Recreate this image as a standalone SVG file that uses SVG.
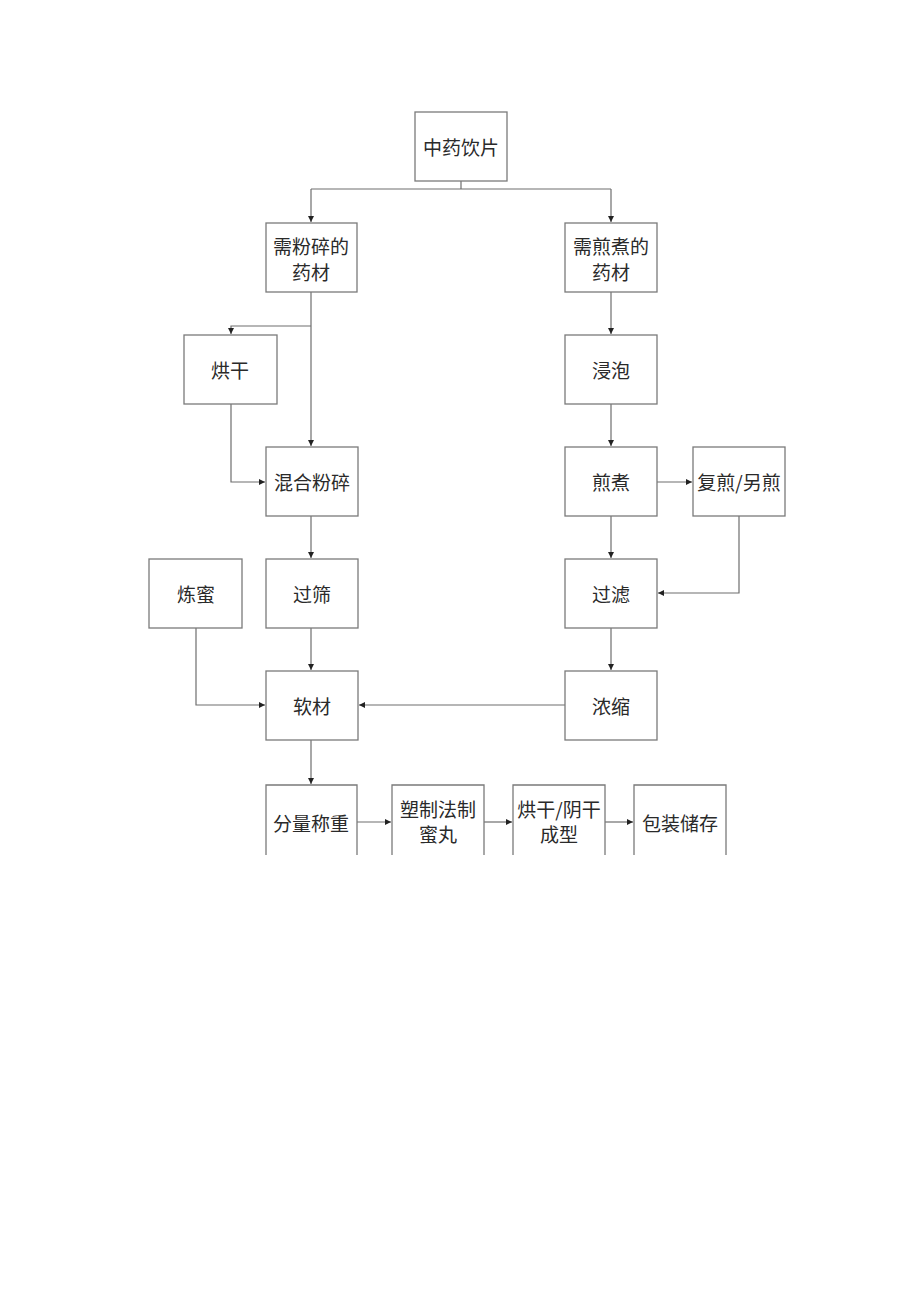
<svg xmlns="http://www.w3.org/2000/svg" width="920" height="1301" viewBox="0 0 920 1301">
<style>
.box{fill:#fff;stroke:#7a7a7a;stroke-width:1.3}
.t{font-family:"Noto Sans CJK SC","Noto Sans",sans-serif;font-size:19px;fill:#2a2a2a;text-anchor:middle;dominant-baseline:central}
.c{fill:none;stroke:#6e6e6e;stroke-width:1.2}
</style>
<defs>
<marker id="a" markerUnits="userSpaceOnUse" markerWidth="7" markerHeight="6" refX="6" refY="3" orient="auto">
<path d="M0,0 L6,3 L0,6 Z" fill="#222"/>
</marker>
</defs>
<rect width="920" height="1301" fill="#fff"/>
<g id="connectors">
<path class="c" d="M461,181 V189 M311,189 H611"/>
<path class="c" d="M311,189 V222" marker-end="url(#a)"/>
<path class="c" d="M611,189 V222" marker-end="url(#a)"/>
<path class="c" d="M311,292 V446" marker-end="url(#a)"/>
<path class="c" d="M311,326 H231 V334" marker-end="url(#a)"/>
<path class="c" d="M231,404 V482 H265" marker-end="url(#a)"/>
<path class="c" d="M611,292 V334" marker-end="url(#a)"/>
<path class="c" d="M611,404 V446" marker-end="url(#a)"/>
<path class="c" d="M657,482 H692" marker-end="url(#a)"/>
<path class="c" d="M739,516 V593 H658" marker-end="url(#a)"/>
<path class="c" d="M611,516 V558" marker-end="url(#a)"/>
<path class="c" d="M311,516 V558" marker-end="url(#a)"/>
<path class="c" d="M611,628 V670" marker-end="url(#a)"/>
<path class="c" d="M311,628 V670" marker-end="url(#a)"/>
<path class="c" d="M196,628 V705 H265" marker-end="url(#a)"/>
<path class="c" d="M565,705 H359" marker-end="url(#a)"/>
<path class="c" d="M311,740 V784" marker-end="url(#a)"/>
<path class="c" d="M357,822 H391" marker-end="url(#a)"/>
<path class="c" d="M484,822 H512" marker-end="url(#a)"/>
<path class="c" d="M605,822 H633" marker-end="url(#a)"/>
</g>
<g id="n1"><rect class="box" x="415" y="112" width="92" height="69"/><text class="t" x="461" y="146">中药饮片</text></g>
<g id="n2"><rect class="box" x="266" y="223" width="91" height="69"/><text class="t" x="311" y="245">需粉碎的</text><text class="t" x="311" y="271">药材</text></g>
<g id="n3"><rect class="box" x="565" y="223" width="92" height="69"/><text class="t" x="611" y="245">需煎煮的</text><text class="t" x="611" y="271">药材</text></g>
<g id="n4"><rect class="box" x="184" y="335" width="93" height="69"/><text class="t" x="230" y="369">烘干</text></g>
<g id="n5"><rect class="box" x="565" y="335" width="92" height="69"/><text class="t" x="611" y="369">浸泡</text></g>
<g id="n6"><rect class="box" x="266" y="447" width="92" height="69"/><text class="t" x="312" y="481">混合粉碎</text></g>
<g id="n7"><rect class="box" x="565" y="447" width="92" height="69"/><text class="t" x="611" y="481">煎煮</text></g>
<g id="n8"><rect class="box" x="693" y="447" width="92" height="69"/><text class="t" x="739" y="481">复煎/另煎</text></g>
<g id="n9"><rect class="box" x="149" y="559" width="93" height="69"/><text class="t" x="196" y="593">炼蜜</text></g>
<g id="n10"><rect class="box" x="266" y="559" width="92" height="69"/><text class="t" x="312" y="593">过筛</text></g>
<g id="n11"><rect class="box" x="565" y="559" width="92" height="69"/><text class="t" x="611" y="593">过滤</text></g>
<g id="n12"><rect class="box" x="266" y="671" width="92" height="69"/><text class="t" x="312" y="705">软材</text></g>
<g id="n13"><rect class="box" x="565" y="671" width="92" height="69"/><text class="t" x="611" y="705">浓缩</text></g>
<g id="n14"><path class="box" fill="none" d="M266,855 V785 H357 V855"/><text class="t" x="311" y="822">分量称重</text></g>
<g id="n15"><path class="box" fill="none" d="M392,855 V785 H484 V855"/><text class="t" x="438" y="808">塑制法制</text><text class="t" x="438" y="833">蜜丸</text></g>
<g id="n16"><path class="box" fill="none" d="M513,855 V785 H605 V855"/><text class="t" x="559" y="808">烘干/阴干</text><text class="t" x="559" y="833">成型</text></g>
<g id="n17"><path class="box" fill="none" d="M634,855 V785 H726 V855"/><text class="t" x="680" y="822">包装储存</text></g>
</svg>
